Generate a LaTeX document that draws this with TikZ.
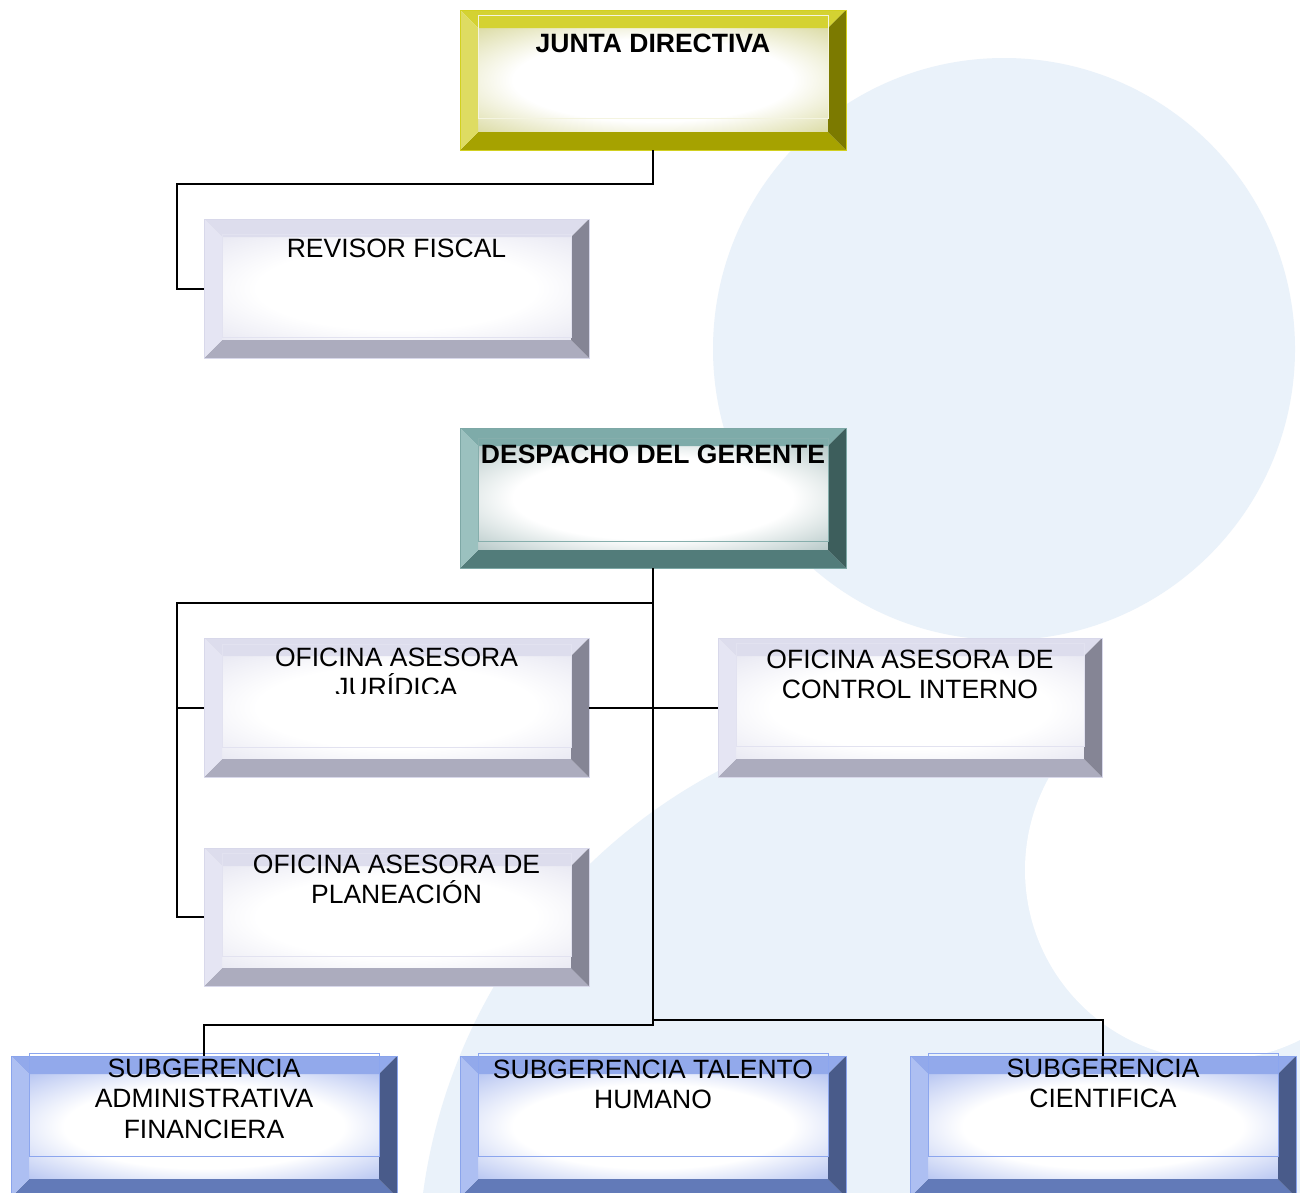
\documentclass[tikz,border=0pt]{standalone}
\usepackage{fontspec}
\setmainfont{Liberation Sans}
\definecolor{bgblue}{HTML}{EAF2FA}
% Junta (olive)
\definecolor{jdT}{HTML}{D4D232}\definecolor{jdL}{HTML}{DEDC62}\definecolor{jdR}{HTML}{7C7A00}
\definecolor{jdB}{HTML}{A6A200}\definecolor{jdI}{HTML}{CDCD80}\definecolor{jdF}{HTML}{F4F4E0}\definecolor{jdO}{HTML}{D2D020}
% Despacho (teal)
\definecolor{dgT}{HTML}{7EABA9}\definecolor{dgL}{HTML}{9BC1BF}\definecolor{dgR}{HTML}{3D5E5C}
\definecolor{dgB}{HTML}{527C7A}\definecolor{dgI}{HTML}{98B2B1}\definecolor{dgF}{HTML}{86AEAC}\definecolor{dgO}{HTML}{7EA8A6}
% Gray
\definecolor{gyT}{HTML}{DDDDED}\definecolor{gyL}{HTML}{E5E5F3}\definecolor{gyR}{HTML}{858595}
\definecolor{gyB}{HTML}{ACACBE}\definecolor{gyI}{HTML}{E0E0EE}\definecolor{gyF}{HTML}{E2E2F0}\definecolor{gyO}{HTML}{D8D8EA}
% Blue
\definecolor{blT}{HTML}{92A9EB}\definecolor{blL}{HTML}{ADBFF2}\definecolor{blR}{HTML}{495B8A}
\definecolor{blB}{HTML}{627AB8}\definecolor{blI}{HTML}{9AAEEC}\definecolor{blF}{HTML}{8CA6EE}\definecolor{blO}{HTML}{8AA4EC}

\colorlet{facetint}{white}
\pgfdeclareradialshading[facetint]{bvface}{\pgfpoint{0bp}{0bp}}{%
  color(0bp)=(white); color(20bp)=(white); color(42bp)=(facetint); color(50bp)=(facetint)}

\newcommand\bvbox[7]{%
  \pgfmathsetmacro\bxA{#2}\pgfmathsetmacro\byA{#3}%
  \pgfmathsetmacro\bxB{#4}\pgfmathsetmacro\byB{#5}%
  \pgfmathsetmacro\bxC{#2+18}\pgfmathsetmacro\byC{#3+18}%
  \pgfmathsetmacro\bxD{#4-18}\pgfmathsetmacro\byD{#5-18}%
  \pgfmathsetmacro\bxM{(#2+#4)/2}\pgfmathsetmacro\byM{(#3+#5)/2}%
  \pgfmathsetmacro\bW{#4-#2}\pgfmathsetmacro\bH{#5-#3}%
  \colorlet{facetint}{#6I}%
  \shade[shading=bvface, shading angle=0] (\bxC,\byC) rectangle (\bxD,\byD);
  \fill[#6T] (\bxA,\byA) -- (\bxB,\byA) -- (\bxD,\byC) -- (\bxC,\byC) -- cycle;
  \fill[#6B] (\bxA,\byB) -- (\bxB,\byB) -- (\bxD,\byD) -- (\bxC,\byD) -- cycle;
  \fill[#6L] (\bxA,\byA) -- (\bxC,\byC) -- (\bxC,\byD) -- (\bxA,\byB) -- cycle;
  \fill[#6R] (\bxB,\byA) -- (\bxD,\byC) -- (\bxD,\byD) -- (\bxB,\byB) -- cycle;
  \draw[#6F, line width=0.8] (\bxC,\byA+#7) rectangle (\bxD,\byA+#7+103);
  \draw[#6O, line width=0.8] (\bxA,\byA) rectangle (\bxB,\byB);
  \node[boxnode, minimum width=\bW pt, minimum height=\bH pt] (#1) at (\bxM,\byM) {};
}

\begin{document}
\begin{tikzpicture}[x=1pt,y=-1pt,
  boxnode/.style={rectangle, draw=none, inner sep=0pt, outer sep=0pt},
  lbl/.style={font=\fontsize{26.5}{30.5}\selectfont, align=center, anchor=base, inner sep=0pt},
  lblb/.style={lbl, font=\fontsize{26.5}{30.5}\selectfont\bfseries},
  conn/.style={draw=black, line width=2pt}]
\useasboundingbox (0,0) rectangle (1300,1192);
\fill[white] (0,0) rectangle (1300,1192);
% background shapes
\begin{scope}
\clip (0,0) rectangle (1300,1192);
\fill[bgblue] (981,1269) circle[radius=563];
\fill[white] (1215,870) circle[radius=190];
\fill[bgblue] (1004,349) circle[radius=291];
\end{scope}

% boxes
\begin{scope}
\clip (0,0) rectangle (1300,1192);
\bvbox{jd}{460}{10}{846}{150}{jd}{5}
\bvbox{rf}{204}{219}{589}{358}{gy}{15}
\bvbox{dg}{460}{428}{846}{568}{dg}{10}
\bvbox{jur}{204}{638}{589}{777}{gy}{6}
\bvbox{ctrl}{718}{638}{1102}{777}{gy}{5}
\bvbox{plan}{204}{848}{589}{986}{gy}{5}
\bvbox{sadm}{11}{1056}{397}{1197}{bl}{-3}
\bvbox{stal}{460}{1056}{846}{1197}{bl}{-3}
\bvbox{scie}{910}{1056}{1296}{1197}{bl}{-3}
\end{scope}

% connectors
\coordinate (j1) at (177,184);
\draw[conn] (jd.south) |- (j1) |- (rf.west);
\coordinate (d1) at (177,603);
\coordinate (d2) at (653,1025);
\coordinate (d3) at (653,1020);
\coordinate (d4) at (177,707.5);
\draw[conn] (dg.south) -- (d2) -| (sadm.north);
\draw[conn] (d3) -| (scie.north);
\draw[conn] (dg.south |- d1) -- (d1) |- (plan.west);
\draw[conn] (d4) -- (jur.west);
\draw[conn] (jur.east) -- (ctrl.west);

% labels (anchor base = baseline of the last line)
\node[lblb] (jdt) at (653,52) {JUNTA DIRECTIVA};
\node[lbl] (rft) at (396.5,257) {REVISOR FISCAL};
\node[lblb] (dgt) at (653,463) {DESPACHO DEL GERENTE};
\begin{scope}
\clip (204,620) rectangle (589,693);
\node[lbl] (jurt) at (396.5,696.5) {OFICINA ASESORA\\JURÍDICA};
\end{scope}
\node[lbl] (ctrlt) at (910,698.5) {OFICINA ASESORA DE\\CONTROL INTERNO};
\node[lbl] (plant) at (396.5,903.5) {OFICINA ASESORA DE\\PLANEACIÓN};
\node[lbl] (sadmt) at (204,1138) {SUBGERENCIA\\ADMINISTRATIVA\\FINANCIERA};
\node[lbl] (stalt) at (653,1108.5) {SUBGERENCIA TALENTO\\HUMANO};
\node[lbl] (sciet) at (1103,1107.5) {SUBGERENCIA\\CIENTIFICA};
\end{tikzpicture}
\end{document}
